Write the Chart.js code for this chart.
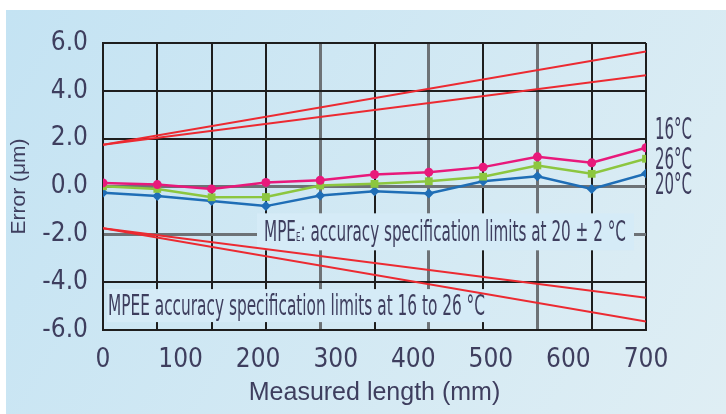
<!DOCTYPE html>
<html>
<head>
<meta charset="utf-8">
<script src="https://cdn.jsdelivr.net/npm/chart.js@4.4.1/dist/chart.umd.min.js"></script>
<style>
  html, body { margin: 0; padding: 0; background: #fff; }
  #wrap { width: 726px; height: 414px; position: relative; }
</style>
</head>
<body>
<div id="wrap"><canvas id="chart"></canvas></div>
<script>
// measured lengths (mm) – one point per grid line
const lengths = [0, 70, 140, 210, 280, 350, 420, 490, 560, 630, 700];
// errors (µm)
const err16 = [0.15, 0.08, -0.10, 0.17, 0.26, 0.50, 0.60, 0.81, 1.24, 0.99, 1.62];
const err26 = [0.01, -0.10, -0.45, -0.44, 0.04, 0.11, 0.22, 0.41, 0.88, 0.53, 1.16];
const err20 = [-0.26, -0.40, -0.61, -0.82, -0.38, -0.20, -0.29, 0.22, 0.43, -0.10, 0.54];
// specification limit lines (end points)
const limitX = [0, 700];
const mpeUpper = [1.75, 4.65];
const mpeLower = [-1.75, -4.65];
const mpeeUpper = [1.75, 5.65];
const mpeeLower = [-1.75, -5.65];
const xTicks = [0, 100, 200, 300, 400, 500, 600, 700];
const yTicks = [-6, -4, -2, 0, 2, 4, 6];

const NARROW = '"Liberation Sans Narrow", "DejaVu Sans Condensed", sans-serif';
const SANS = '"Liberation Sans", Arial, sans-serif';
const TEXT = '#3e3e5e';
const RED = '#ec2a31';

const pts = (ys) => lengths.map((x, i) => ({ x: x, y: ys[i] }));
const seg = (ys) => limitX.map((x, i) => ({ x: x, y: ys[i] }));

// dark / grey grid lines, as in the picture
const xGridGrey = [4, 6, 8];
const yGridGrey = [-2, 0];

// draw text squeezed into a given width
function squeeze(ctx, parts, x, y, width) {
  let total = 0;
  parts.forEach(p => { ctx.font = p.font; total += ctx.measureText(p.text).width; });
  const sx = width / total;
  ctx.save();
  ctx.translate(x, y);
  ctx.scale(sx, 1);
  let cx = 0;
  parts.forEach(p => {
    ctx.font = p.font;
    ctx.fillText(p.text, cx, p.dy || 0);
    cx += ctx.measureText(p.text).width;
  });
  ctx.restore();
}

const panelBg = {
  id: 'panelBg',
  beforeDraw(chart) {
    const { ctx, width, height } = chart;
    ctx.save();
    ctx.fillStyle = '#fff';
    ctx.fillRect(0, 0, width, height);
    const g = ctx.createLinearGradient(6, 10, width, height);
    g.addColorStop(0, '#c4e3f3');
    g.addColorStop(1, '#dfeef4');
    ctx.fillStyle = g;
    ctx.fillRect(6, 10, width - 6, height - 10);
    ctx.restore();
  }
};

const notes = {
  id: 'notes',
  beforeDatasetsDraw(chart) {
    const { ctx } = chart;
    const ys = chart.scales.y;
    ctx.save();
    ctx.fillStyle = '#d5ebf7';
    // MPE_E box on the -2.0 line
    const y1 = ys.getPixelForValue(-2);
    ctx.fillRect(257, y1 - 21, 377, 37);
    // MPE_EE box under -4.0 line
    const y2 = ys.getPixelForValue(-5);
    ctx.fillRect(107, y2 - 17, 383, 33);
    ctx.fillStyle = TEXT;
    ctx.textBaseline = 'alphabetic';
    squeeze(ctx, [
      { text: 'MPE', font: '28px ' + NARROW },
      { text: 'E', font: '13px ' + NARROW, dy: 0 },
      { text: ': accuracy specification limits at 20 \u00b1 2 \u00b0C', font: '28px ' + NARROW }
    ], 264, y1 + 7, 362);
    squeeze(ctx, [
      { text: 'MPEE accuracy specification limits at 16 to 26 \u00b0C', font: '28px ' + NARROW }
    ], 108, y2 + 9, 377);
    ctx.restore();
  },
  afterDatasetsDraw(chart) {
    const { ctx } = chart;
    ctx.save();
    ctx.fillStyle = TEXT;
    ctx.textBaseline = 'alphabetic';
    const labels = [['16\u00b0C', 139], ['26\u00b0C', 169], ['20\u00b0C', 194]];
    labels.forEach(l => squeeze(ctx, [{ text: l[0], font: '31px ' + NARROW }], 655, l[1], 37));
    ctx.restore();
  }
};

const line = (label, data, color, style, radius) => ({
  label: label,
  data: data,
  borderColor: color,
  backgroundColor: color,
  borderWidth: 2.5,
  pointStyle: style,
  pointRadius: radius,
  pointHoverRadius: radius,
  pointBorderWidth: 0,
  tension: 0,
  xAxisID: 'x',
  yAxisID: 'y'
});

const limit = (data) => ({
  data: data,
  borderColor: RED,
  borderWidth: 2,
  pointRadius: 0,
  xAxisID: 'x',
  yAxisID: 'y'
});

new Chart(document.getElementById('chart'), {
  type: 'line',
  data: {
    datasets: [
      line('16\u00b0C', pts(err16), '#e8197b', 'circle', 4.5),
      line('26\u00b0C', pts(err26), '#8cc63f', 'rect', 5.5),
      line('20\u00b0C', pts(err20), '#1f6eb6', 'rectRot', 5),
      limit(seg(mpeUpper)),
      limit(seg(mpeeUpper)),
      limit(seg(mpeLower)),
      limit(seg(mpeeLower))
    ]
  },
  options: {
    responsive: true,
    maintainAspectRatio: false,
    animation: false,
    devicePixelRatio: 1,
    layout: { padding: { left: 0, top: 43, right: 80, bottom: 0 } },
    plugins: { legend: { display: false }, tooltip: { enabled: false } },
    scales: {
      x: {
        type: 'linear',
        position: 'bottom',
        min: 0,
        max: 700,
        ticks: { display: false, stepSize: 70 },
        grid: {
          drawTicks: false,
          color: (c) => xGridGrey.includes(c.index) ? '#6d7276' : '#1e1e1e',
          lineWidth: (c) => xGridGrey.includes(c.index) ? 3 : 2
        },
        border: { color: '#1e1e1e', width: 2 },
        afterFit: (s) => { s.height = 0; }
      },
      xl: {
        type: 'linear',
        position: 'bottom',
        min: 0,
        max: 700,
        afterBuildTicks: (s) => { s.ticks = xTicks.map(v => ({ value: v })); },
        ticks: { color: TEXT, font: { family: NARROW, size: 26 }, padding: 7 },
        grid: { display: false },
        border: { display: false },
        title: {
          display: true,
          text: 'Measured length (mm)',
          color: TEXT,
          font: { family: SANS, size: 25 },
          padding: { top: 0, bottom: 6 }
        },
        afterFit: (s) => { s.height = 84; }
      },
      y: {
        min: -6,
        max: 6,
        afterBuildTicks: (s) => { s.ticks = yTicks.map(v => ({ value: v })); },
        ticks: {
          color: TEXT,
          font: { family: NARROW, size: 26 },
          padding: 15,
          callback: (v) => v.toFixed(1)
        },
        grid: {
          drawTicks: false,
          color: (c) => yGridGrey.includes(c.tick && c.tick.value) ? '#6d7276' : '#1e1e1e',
          lineWidth: (c) => yGridGrey.includes(c.tick && c.tick.value) ? 3 : 2
        },
        border: { color: '#1e1e1e', width: 2 },
        title: {
          display: true,
          text: 'Error (\u03bcm)',
          color: TEXT,
          font: { family: SANS, size: 21 },
          padding: { top: 7, bottom: 0 }
        },
        afterFit: (s) => { s.width = 103; }
      }
    }
  },
  plugins: [panelBg, notes]
});
</script>
</body>
</html>
